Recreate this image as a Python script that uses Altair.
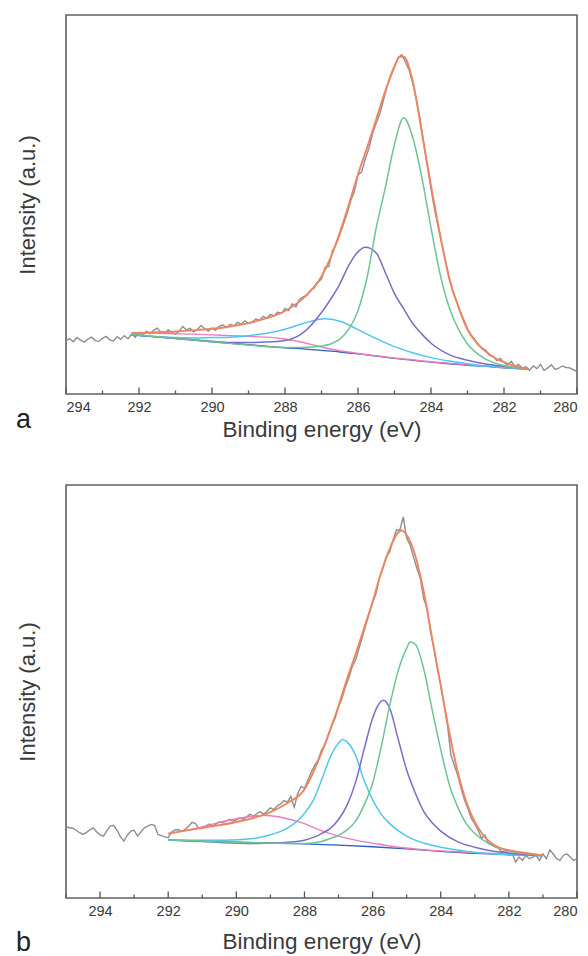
import altair as alt
import pandas as pd

FONT = "Liberation Sans"
TXT = "#3a3a3a"

# ---------------- Panel a ----------------
a_raw_start, a_raw_step = 294.0, 0.1
a_raw_I = [
    14.0, 14.6, 13.8, 14.9, 14.2, 13.7, 14.5, 15.0, 14.1, 13.9,
    14.7, 15.2, 14.3, 14.0, 15.1, 14.4, 15.4, 14.6, 15.8, 15.0,
    16.2, 15.4, 16.6, 15.9, 16.8, 17.4, 16.3, 16.0, 16.9, 16.2,
    15.8, 16.6, 17.8, 16.9, 17.3, 16.4, 17.0, 18.1, 17.2, 16.6,
    17.4, 16.8, 17.9, 18.2, 17.5, 18.4, 18.0, 18.9, 18.4, 19.3,
    18.6, 19.0, 19.8, 19.4, 20.5, 20.0, 21.0, 20.6, 21.6, 21.2,
    22.6, 22.0, 23.8, 23.0, 25.0, 25.6, 26.0, 27.4, 28.0, 29.5,
    30.3, 33.5, 33.6, 37.8, 39.5, 42.0, 44.8, 47.6, 51.0, 53.4,
    57.8, 58.6, 62.0, 64.8, 68.8, 71.5, 74.0, 77.6, 81.3, 83.8,
    86.2, 88.8, 89.5, 87.6, 85.5, 82.0, 77.6, 72.6, 66.2, 60.0,
    54.2, 48.6, 44.0, 39.5, 35.0, 30.6, 27.0, 24.6, 21.8, 19.6,
    17.2, 15.6, 14.4, 13.0, 12.0, 11.6, 10.2, 10.0, 8.8, 9.4,
    8.3, 7.6, 8.6, 7.3, 7.8, 6.8, 7.2, 6.3, 7.4, 6.7,
    7.8, 6.2, 6.9, 7.7, 6.5, 6.8, 7.4, 7.0, 6.9, 6.4,
    6.0,
]

a_base_E = [292.2, 291, 290, 289, 288, 287.5, 287, 286.5, 286, 285.5, 285, 284.5,
            284, 283.5, 283, 282.5, 282, 281.35]
a_base_I = [15.6, 14.6, 13.8, 13.0, 12.2, 11.9, 11.5, 11.1, 10.6, 10.0, 9.4, 8.9,
            8.4, 8.0, 7.6, 7.3, 6.9, 6.6]

a_pink_E = [292.2, 291.5, 291, 290.5, 290, 289.5, 289, 288.5, 288, 287.5, 287, 286.5,
            286, 285.5, 285, 284.5, 284, 283.5, 283, 282.5, 282, 281.35]
a_pink_I = [16.1, 16.0, 15.9, 15.8, 15.6, 15.4, 15.2, 15.0, 14.5, 13.6, 12.4, 11.4,
            10.7, 10.1, 9.5, 9.0, 8.5, 8.1, 7.7, 7.4, 7.0, 6.6]

a_cyan_E = [292.2, 291.5, 291, 290.5, 290, 289.5, 289, 288.5, 288, 287.5, 287, 286.9,
            286.5, 286, 285.5, 285, 284.5, 284, 283.5, 283, 282.5, 282, 281.35]
a_cyan_I = [15.6, 15.1, 14.9, 14.8, 14.9, 15.0, 15.4, 16.0, 17.1, 18.6, 19.8, 19.85,
            19.2, 17.0, 14.6, 12.5, 10.9, 9.6, 8.7, 8.0, 7.4, 7.0, 6.6]

a_purple_E = [292.2, 291, 290, 289.5, 289, 288.5, 288, 287.5, 287, 286.75, 286.5, 286.25,
              286, 285.8, 285.5, 285.25, 285, 284.75, 284.5, 284.25, 284, 283.5, 283,
              282.5, 282, 281.35]
a_purple_I = [15.6, 14.7, 13.9, 13.6, 13.6, 13.7, 14.1, 16.2, 21.5, 25.0, 29.0, 34.0,
              37.5, 38.7, 37.2, 32.0, 26.5, 22.5, 18.6, 15.8, 13.4, 10.4, 8.9,
              7.9, 7.3, 6.6]

a_green_E = [292.2, 291, 290, 289, 288, 287.5, 287, 286.75, 286.5, 286.25, 286, 285.75,
             285.5, 285.25, 285, 284.75, 284.5, 284.25, 284, 283.75, 283.5, 283.25,
             283, 282.5, 282, 281.35]
a_green_I = [15.7, 14.7, 13.8, 12.9, 12.3, 12.3, 12.65, 13.2, 14.5, 17.1, 22.0, 30.8,
             43.9, 54.5, 65.9, 72.9, 67.7, 57.1, 43.9, 31.6, 22.8, 17.1,
             13.2, 9.2, 7.5, 6.6]

a_fit_E = [292.2, 291.5, 291, 290.5, 290, 289.5, 289, 288.5, 288, 287.5, 287, 286.75,
           286.5, 286.25, 286, 285.75, 285.5, 285.25, 285, 284.85, 284.75, 284.5,
           284.25, 284, 283.75, 283.5, 283.25, 283, 282.75, 282.5, 282.25, 282,
           281.75, 281.35]
a_fit_I = [16.1, 16.3, 16.5, 16.8, 17.2, 17.8, 18.7, 20.0, 21.9, 25.3, 31.0, 36.0,
           42.5, 50.0, 58.0, 65.0, 72.5, 80.0, 86.5, 89.0, 89.0, 82.5,
           69.0, 55.0, 42.0, 30.5, 23.0, 17.0, 13.5, 11.2, 9.5, 8.4,
           7.5, 6.6]

a_major = [294, 292, 290, 288, 286, 284, 282, 280]
a_minor = [293, 291, 289, 287, 285, 283, 281]

# ---------------- Panel b ----------------
b_raw_start, b_raw_step = 295.0, 0.1
b_raw_I = [
    17.4, 17.0, 16.9, 16.4, 15.8, 15.4, 15.9, 16.5, 17.0, 16.0,
    15.3, 15.0, 16.3, 17.4, 17.6, 16.4, 14.8, 13.8, 15.2, 16.2,
    16.4, 15.0, 16.0, 17.0, 17.4, 17.8, 17.6, 15.4, 15.1, 14.8,
    14.6, 16.0, 16.5, 16.6, 16.1, 16.6, 17.4, 18.3, 18.0, 16.8,
    16.9,
    17.4, 17.9, 17.3, 17.9, 18.4, 18.2, 18.6, 19.0, 18.6, 18.9,
    19.4, 19.0, 19.6, 20.3, 19.8, 20.4, 20.9, 20.3, 21.0, 21.8,
    21.4, 22.3, 22.8, 23.6, 23.2, 24.6, 22.0, 25.2, 27.0, 26.6,
    28.5, 30.5, 32.1, 33.4, 35.8, 37.0, 39.4, 41.8, 43.5, 46.3,
    48.3, 51.1, 53.2, 56.0, 57.6, 60.4, 63.2, 66.1, 68.9, 71.7,
    73.7, 77.4, 79.8, 82.6, 83.8, 86.7, 89.1, 89.1, 92.3, 87.1,
    85.5, 82.6, 79.8, 77.4, 72.5, 70.1, 64.5, 60.4, 55.6, 51.5,
    46.7, 41.8, 34.6, 32.1, 29.7, 26.5, 23.7, 21.6, 19.2, 18.0,
    16.4, 14.4, 15.2, 13.2, 12.8, 12.4, 12.0, 11.1, 11.6, 10.3,
    10.7, 8.7, 9.9, 9.1, 10.3, 9.5, 9.9, 10.3, 9.1, 10.7,
    9.5, 11.6, 10.7, 9.5, 9.1, 10.3, 10.7, 9.9, 9.1, 9.5,
]

b_base_E = [292, 291, 290, 289, 288, 287, 286, 285, 284, 283, 282, 281]
b_base_I = [14.0, 13.8, 13.5, 13.3, 13.1, 12.8, 12.4, 11.9, 11.3, 10.8, 10.5, 10.3]

b_pink_E = [292, 291.5, 291, 290.5, 290, 289.5, 289.2, 289, 288.5, 288, 287.5, 287,
            286.5, 286, 285.5, 285, 284.5, 284, 283.5, 283, 282.5, 282, 281]
b_pink_I = [15.6, 16.3, 17.2, 18.3, 19.2, 19.8, 20.0, 19.9, 19.2, 18.0, 16.3, 15.0,
            14.0, 13.3, 12.6, 12.1, 11.7, 11.4, 11.2, 11.0, 10.8, 10.6, 10.3]

b_cyan_E = [292, 291, 290.35, 289.5, 289, 288.5, 288.14, 288, 287.75, 287.5, 287.25,
            287, 286.89, 286.75, 286.5, 286.25, 286, 285.75, 285.5, 285.25, 285,
            284.75, 284.5, 284, 283.5, 283, 282.5, 282, 281]
b_cyan_I = [14.0, 14.0, 14.0, 14.4, 15.3, 16.9, 19.2, 20.5, 23.5, 28.5, 34.0,
            37.5, 38.4, 37.8, 34.5, 28.5, 23.8, 20.3, 18.0, 16.3, 15.0,
            14.0, 13.3, 12.3, 11.6, 11.0, 10.7, 10.5, 10.3]

b_purple_E = [292, 291, 290.35, 289.5, 289, 288.5, 288, 287.7, 287.5, 287.25, 287,
              286.75, 286.5, 286.25, 286, 285.85, 285.68, 285.5, 285.25, 285, 284.75,
              284.5, 284.25, 284, 283.5, 283, 282.5, 282, 281.5, 281]
b_purple_I = [14.0, 13.7, 13.4, 13.2, 13.3, 13.5, 14.0, 14.8, 15.6, 16.8, 19.0,
              22.5, 28.0, 36.0, 43.5, 46.5, 47.9, 46.0, 38.5, 31.0, 25.5,
              21.0, 18.2, 16.2, 13.6, 12.3, 11.4, 10.9, 10.5, 10.3]

b_green_E = [292, 291, 290, 289, 288.5, 288, 287.5, 287.25, 287, 286.75, 286.5,
             286.25, 286, 285.75, 285.5, 285.25, 285, 284.9, 284.75, 284.5, 284.25,
             284, 283.75, 283.5, 283.25, 283, 282.5, 282, 281.5, 281]
b_green_I = [14.0, 13.8, 13.5, 13.3, 13.2, 13.2, 13.7, 14.4, 15.2, 16.5, 18.6,
             22.5, 27.8, 36.5, 46.5, 55.0, 60.5, 62.0, 61.5, 55.5, 45.5,
             36.0, 27.5, 22.0, 18.0, 15.6, 12.8, 11.4, 10.7, 10.3]

b_fit_E = [292, 291, 290, 289, 288.5, 288, 287.75, 287.5, 287.25, 287, 286.75, 286.5,
           286.25, 286, 285.75, 285.5, 285.25, 285.15, 285, 284.75, 284.5, 284.25,
           284, 283.75, 283.5, 283.25, 283, 282.75, 282.5, 282.25, 282, 281.5, 281]
b_fit_I = [15.6, 17.0, 18.4, 20.8, 23.0, 26.3, 30.3, 35.2, 40.6, 46.5, 53.0, 59.0,
           65.3, 71.7, 78.8, 84.5, 88.5, 89.0, 87.9, 83.0, 74.2, 62.8,
           51.5, 40.2, 30.5, 23.3, 18.4, 15.2, 13.2, 12.1, 11.6, 10.9, 10.3]

b_major = [294, 292, 290, 288, 286, 284, 282, 280]
b_minor = [295, 293, 291, 289, 287, 285, 283, 281]

# ---------------- colours ----------------
C_RAW = "#8e8e8e"
C_FIT = "#ef8460"
C_GREEN = "#6cc592"
C_PURPLE = "#7a6dc6"
C_CYAN = "#4fc6ee"
C_PINK = "#ec7cbd"
C_BLUE = "#2f5fbf"


def series(E, I):
    return pd.DataFrame({"E": E, "I": I})


def panel(letter, letter_dy, title_pad, xdom, width, height, raw_start, raw_step, raw_I,
          base, pink, cyan, purple, green, fit, major, minor):
    raw_E = [round(raw_start - raw_step * i, 2) for i in range(len(raw_I))]
    xs = alt.Scale(domain=xdom, reverse=True, nice=False, zero=False)
    ys = alt.Scale(domain=[0, 100], nice=False, zero=False)
    xax = alt.Axis(values=major, format="d", ticks=False, domain=False, grid=False,
                   labelFont=FONT, labelFontSize=14.5, labelColor=TXT, labelPadding=6,
                   title="Binding energy (eV)", titleFont=FONT, titleFontSize=22.5,
                   titleFontWeight="normal", titleColor=TXT, titlePadding=title_pad)
    yax = alt.Axis(labels=False, ticks=False, domain=False, grid=False,
                   title="Intensity (a.u.)", titleFont=FONT, titleFontSize=22,
                   titleFontWeight="normal", titleColor=TXT, titlePadding=27)

    X = alt.X("E:Q", scale=xs, axis=xax)
    Y = alt.Y("I:Q", scale=ys, axis=yax)

    def line(df, color, w, interp="monotone"):
        return alt.Chart(df).mark_line(color=color, strokeWidth=w, interpolate=interp,
                                       clip=True).encode(x=X, y=Y)

    layers = [
        line(series(raw_E, raw_I), C_RAW, 1.4, "linear"),
        line(series(*base), C_BLUE, 1.4),
        line(series(*pink), C_PINK, 1.4),
        line(series(*cyan), C_CYAN, 1.5),
        line(series(*purple), C_PURPLE, 1.5),
        line(series(*green), C_GREEN, 1.5),
        line(series(*fit), C_FIT, 1.9),
    ]
    maj = alt.Chart(pd.DataFrame({"E": major})).mark_rule(color="#555", strokeWidth=1.3).encode(
        x=X, y=alt.value(height), y2=alt.value(height - 6.5))
    mnr = alt.Chart(pd.DataFrame({"E": minor})).mark_rule(color="#555", strokeWidth=1.3).encode(
        x=X, y=alt.value(height), y2=alt.value(height - 3.5))
    lab = alt.Chart(pd.DataFrame({"t": [letter]})).mark_text(
        align="left", baseline="alphabetic", font=FONT, fontSize=27, color="#222"
    ).encode(text="t:N", x=alt.value(-50), y=alt.value(height + letter_dy))
    return alt.layer(*layers, maj, mnr, lab).properties(width=width, height=height)


pa = panel("a", 34, 5, [280, 294], 511, 379, a_raw_start, a_raw_step, a_raw_I,
           (a_base_E, a_base_I), (a_pink_E, a_pink_I), (a_cyan_E, a_cyan_I),
           (a_purple_E, a_purple_I), (a_green_E, a_green_I), (a_fit_E, a_fit_I),
           a_major, a_minor)
pb = panel("b", 53, 13, [280, 295], 511, 413, b_raw_start, b_raw_step, b_raw_I,
           (b_base_E, b_base_I), (b_pink_E, b_pink_I), (b_cyan_E, b_cyan_I),
           (b_purple_E, b_purple_I), (b_green_E, b_green_I), (b_fit_E, b_fit_I),
           b_major, b_minor)

chart = alt.vconcat(pa, pb, spacing=42).properties(
    padding={"left": 15, "top": 14, "right": 0, "bottom": 0},
    background="white",
).configure_view(stroke="#606060", strokeWidth=1.6)

chart.save("out.html", embed_options={"renderer": "svg", "actions": False})
